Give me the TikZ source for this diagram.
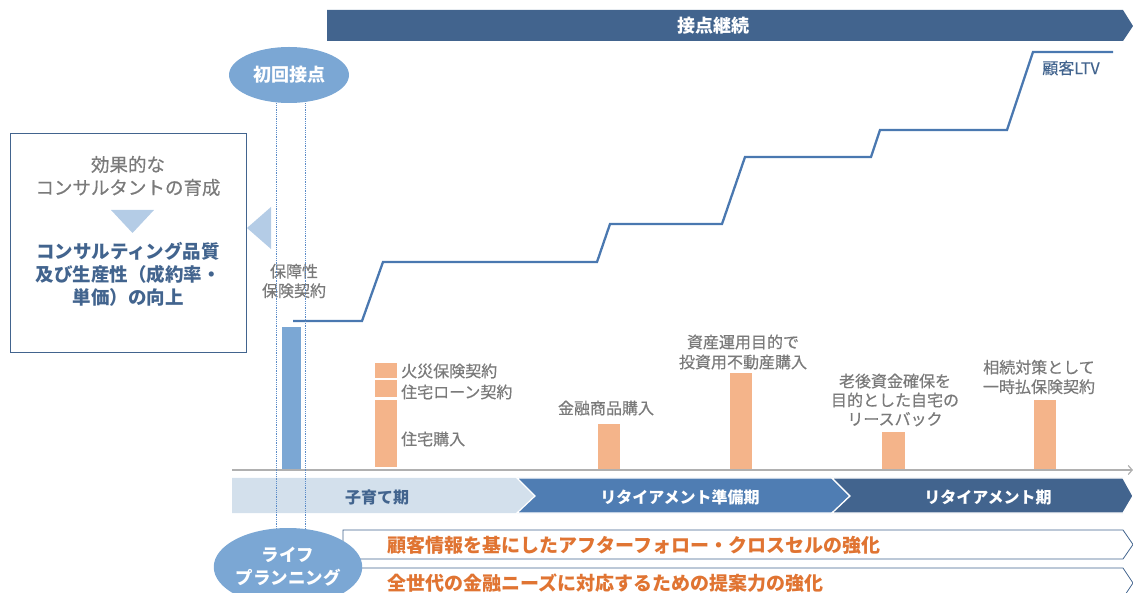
\documentclass[tikz,border=0pt]{standalone}
\usepackage{fontspec}
\setmainfont{Noto Sans CJK JP}
\newfontfamily\medfont{Noto Sans CJK JP}[FakeBold=0.5]
\usetikzlibrary{shapes.geometric,arrows.meta}
\definecolor{darkblue}{HTML}{42648E}
\definecolor{midblue}{HTML}{4F7DB3}
\definecolor{ltvblue}{HTML}{4A78B0}
\definecolor{ellblue}{HTML}{7BA7D4}
\definecolor{triblue}{HTML}{B4CCE6}
\definecolor{paleblue}{HTML}{D3E0EC}
\definecolor{barorange}{HTML}{F4B48A}
\definecolor{orangetxt}{HTML}{E07432}
\definecolor{graytxt}{HTML}{7A7A7A}
\definecolor{axisgray}{HTML}{B0B0B0}
\definecolor{dotblue}{HTML}{5B8CC8}
\begin{document}
\begin{tikzpicture}[x=1pt,y=-1pt,
  graylab/.style={inner sep=0pt, text=graytxt, align=center, font=\medfont\fontsize{16}{19.5}\selectfont},
  barbox/.style={fill=barorange, draw=none, inner sep=0pt, anchor=south west},
  ell/.style={ellipse, fill=ellblue, text=white, inner sep=0pt, align=center, font=\bfseries\fontsize{18}{23}\selectfont},
  chevtxt/.style={inner sep=0pt, font=\bfseries\fontsize{16}{19}\selectfont},
  boxtxt/.style={inner sep=0pt, anchor=west, text=orangetxt, font=\bfseries\fontsize{19}{22}\selectfont},
  dotline/.style={draw=dotblue, densely dotted, line width=0.8pt},
  arrowbox/.style={draw=darkblue, fill=white, line width=0.8pt},
]
\useasboundingbox (0,0) rectangle (1133,593);

% top banner
\fill[darkblue] (327,10) -- (1123,10) -- (1133,26) -- (1123,41) -- (327,41) -- cycle;
\node[chevtxt, text=white, font=\bfseries\fontsize{18}{20}\selectfont] (banner) at (713,26) {接点継続};

% left box
\node[draw=darkblue, line width=0.9pt, minimum width=236pt, minimum height=219pt, inner sep=0pt] (lbox) at (128,242.5) {};
\node[graylab, font=\medfont\fontsize{18.5}{23}\selectfont] (eff) at (128,176) {効果的な\\コンサルタントの育成};
\fill[triblue] (111,210) -- (154,210) -- (132.5,233) -- cycle;
\node[inner sep=0pt, align=center, text=darkblue, font=\bfseries\fontsize{18.5}{23}\selectfont] (qual) at (128,274) {コンサルティング品質\\及び生産性（成約率・\\単価）の向上};
\fill[triblue] (271,207) -- (271,249) -- (247,228) -- cycle;

% LTV line
\draw[ltvblue, line width=2.3pt, line join=miter] (293,321) -- (362,321) -- (383,262) -- (597,262) -- (610,224) -- (722,224) -- (745,157) -- (871,157) -- (880,130) -- (1007,130) -- (1033,52) -- (1113,52);
\node[inner sep=0pt, text=darkblue, font=\medfont\fontsize{16}{19}\selectfont] (ltv) at (1071,68) {顧客LTV};

% first contact bar and label
\node[fill=ellblue, inner sep=0pt, anchor=south west, minimum width=19pt, minimum height=143pt] (bluebar) at (282,470) {};
\node[graylab] (hosho) at (294,281) {保障性\\保険契約};

% orange bars
\node[barbox, minimum width=22pt, minimum height=15pt] (s1) at (375,378) {};
\node[barbox, minimum width=22pt, minimum height=17pt] (s2) at (375,397) {};
\node[barbox, minimum width=22pt, minimum height=67pt] (s3) at (375,467) {};
\node[graylab, anchor=west] (l1) at (401,371) {火災保険契約};
\node[graylab, anchor=west] (l2) at (401,392) {住宅ローン契約};
\node[graylab, anchor=west] (l3) at (401,439) {住宅購入};

\node[barbox, minimum width=22pt, minimum height=46pt] (b2) at (598,470) {};
\node[graylab] (l4) at (606,408) {金融商品購入};
\node[barbox, minimum width=22pt, minimum height=97pt] (b3) at (730,470) {};
\node[graylab, font=\medfont\fontsize{16}{20}\selectfont] (l5) at (743,352) {資産運用目的で\\投資用不動産購入};
\node[barbox, minimum width=23pt, minimum height=38pt] (b4) at (882,470) {};
\node[graylab, font=\medfont\fontsize{16}{19}\selectfont] (l6) at (895,400) {老後資金確保を\\目的とした自宅の\\リースバック};
\node[barbox, minimum width=22pt, minimum height=70pt] (b5) at (1034,470) {};
\node[graylab, font=\medfont\fontsize{16}{19.5}\selectfont] (l7) at (1039,377) {相続対策として\\一時払保険契約};

% axis
\coordinate (ax0) at (232,470);
\coordinate (ax1) at (1133,470);
\draw[axisgray, line width=2.6pt, -{Straight Barb[length=4pt,width=9pt,line width=1.2pt]}] (ax0) -- (ax1);

% phase chevrons
\fill[paleblue] (232,478) -- (517,478) -- (535,496) -- (517,513) -- (232,513) -- cycle;
\fill[midblue, draw=white, line width=1.2pt] (517,478) -- (832,478) -- (850,496) -- (832,513) -- (517,513) -- (535,496) -- cycle;
\fill[darkblue, draw=white, line width=1.2pt] (832,478) -- (1123,478) -- (1133,496) -- (1123,513) -- (832,513) -- (850,496) -- cycle;
\node[chevtxt, text=darkblue] (p1) at (377,497) {子育て期};
\node[chevtxt, text=white] (p2) at (680,497) {リタイアメント準備期};
\node[chevtxt, text=white] (p3) at (988,497) {リタイアメント期};

% bottom boxes
\draw[arrowbox] (343,530) -- (1123,530) -- (1133,544.5) -- (1123,559) -- (343,559) -- cycle;
\draw[arrowbox] (343,568) -- (1123,568) -- (1133,583) -- (1123,598) -- (343,598) -- cycle;
\node[boxtxt] (t1) at (387,545) {顧客情報を基にしたアフターフォロー・クロスセルの強化};
\node[boxtxt] (t2) at (387,583) {全世代の金融ニーズに対応するための提案力の強化};

% ellipses and dotted guides
\node[ell, minimum width=120pt, minimum height=56pt] (e1) at (289,75) {初回接点};
\coordinate (e2top) at (288,529);
\draw[dotline] (e1.south -| 276,0) -- (e2top -| 276,0);
\draw[dotline] (e1.south -| 305,0) -- (e2top -| 305,0);
\node[ell, minimum width=120pt, minimum height=78pt, font=\bfseries\fontsize{17.5}{23}\selectfont] (e2) at (288,567) {ライフ\\プランニング};
\end{tikzpicture}
\end{document}
